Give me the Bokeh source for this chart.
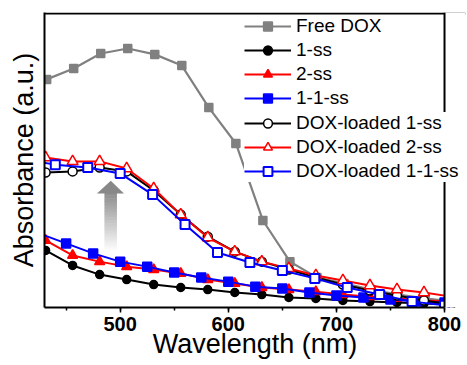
from bokeh.plotting import figure
from bokeh.models import (Legend, LegendItem, SingleIntervalTicker, FixedTicker,
                          Span, BoxAnnotation)
from bokeh.embed import file_html
from bokeh.resources import INLINE

# ---------------- data ----------------
free_dox_x = [432, 457, 482, 507, 532, 557, 582, 607, 632, 657, 682, 707, 732, 757, 782, 807]
free_dox_y = [0.776, 0.813, 0.864, 0.881, 0.861, 0.823, 0.680, 0.558, 0.296, 0.156, 0.102,
              0.082, 0.061, 0.044, 0.031, 0.020]

ss1_x = [431, 456, 481, 506, 531, 556, 581, 606, 631, 656, 681, 706, 731, 756, 781, 806]
ss1_y = [0.194, 0.143, 0.112, 0.095, 0.078, 0.068, 0.061, 0.051, 0.044, 0.034, 0.031,
         0.024, 0.020, 0.017, 0.014, 0.010]

ss2_x = [431, 456, 481, 506, 531, 556, 581, 606, 631, 656, 681, 706, 731, 756, 781, 806]
ss2_y = [0.228, 0.177, 0.156, 0.139, 0.129, 0.116, 0.095, 0.082, 0.068, 0.061, 0.054,
         0.044, 0.037, 0.031, 0.024, 0.020]

ss11_x = [425, 450, 475, 500, 525, 550, 575, 600, 625, 650, 675, 700, 725, 750, 775, 800]
ss11_y = [0.252, 0.218, 0.184, 0.156, 0.139, 0.119, 0.102, 0.088, 0.071, 0.065, 0.051,
          0.041, 0.034, 0.027, 0.020, 0.017]

dss1_x = [431, 456, 481, 506, 531, 556, 581, 606, 631, 656, 681, 706, 731, 756, 781, 806]
dss1_y = [0.459, 0.463, 0.476, 0.463, 0.398, 0.316, 0.241, 0.190, 0.156, 0.129, 0.102,
          0.078, 0.058, 0.041, 0.024, 0.010]

dss2_x = [431, 456, 481, 506, 531, 556, 581, 606, 631, 656, 681, 706, 731, 756, 781, 806]
dss2_y = [0.510, 0.497, 0.497, 0.473, 0.405, 0.316, 0.238, 0.190, 0.156, 0.133, 0.109,
          0.092, 0.075, 0.061, 0.051, 0.037]

dss11_x = [410, 440, 470, 500, 530, 560, 590, 620, 650, 680, 710, 740, 770, 800]
dss11_y = [0.505, 0.486, 0.476, 0.456, 0.384, 0.282, 0.187, 0.153, 0.126, 0.099, 0.068,
           0.044, 0.020, 0.008]

labels = ["Free DOX", "1-ss", "2-ss", "1-1-ss",
          "DOX-loaded 1-ss", "DOX-loaded 2-ss", "DOX-loaded 1-1-ss"]

X_MIN, X_MAX = 430, 800

# ---------------- figure ----------------
FONT = "Liberation Sans"
# the frame runs a little past 800 so that the legend text can overhang the right edge
p = figure(width=467, height=365, x_range=(X_MIN, 819.4), y_range=(0, 1.0035),
           output_backend="svg", toolbar_location=None,
           min_border_left=44, min_border_right=2, min_border_top=12, min_border_bottom=58)
p.xgrid.visible = False
p.ygrid.visible = False
p.outline_line_color = None
p.background_fill_color = "white"
p.border_fill_color = "white"

xa = p.xaxis[0]
xa.ticker = SingleIntervalTicker(interval=100, num_minor_ticks=2)
xa.bounds = (X_MIN, X_MAX)
xa.axis_line_width = 2
xa.major_tick_in = 0
xa.major_tick_out = 5
xa.minor_tick_in = 0
xa.minor_tick_out = 3
xa.major_tick_line_width = 1.5
xa.minor_tick_line_width = 1.5
xa.major_label_text_font = FONT
xa.major_label_text_font_style = "bold"
xa.major_label_text_font_size = "20px"
xa.major_label_text_color = "black"
xa.major_label_standoff = 4
xa.axis_label = "Wavelength (nm)"
xa.axis_label_text_font = FONT
xa.axis_label_text_font_style = "normal"
xa.axis_label_text_font_size = "27px"
xa.axis_label_text_color = "black"
xa.axis_label_standoff = -5

ya = p.yaxis[0]
ya.ticker = FixedTicker(ticks=[])
ya.axis_line_width = 2
ya.major_tick_out = 0
ya.minor_tick_out = 0
ya.major_label_text_font_size = "0px"
ya.axis_label = "Absorbance (a.u.)"
ya.axis_label_text_font = FONT
ya.axis_label_text_font_style = "normal"
ya.axis_label_text_font_size = "27px"
ya.axis_label_text_color = "black"
ya.axis_label_standoff = 6

# ---------------- gradient arrow (annotation) ----------------
shaft_left, shaft_right = 485.5, 497.0
shaft_bottom, shaft_top = 0.19, 0.39
n = 40
for i in range(n):
    b = shaft_bottom + (shaft_top - shaft_bottom) * i / n
    t = shaft_bottom + (shaft_top - shaft_bottom) * (i + 1) / n
    f = (i + 0.5) / n
    g = int(round(255 - (255 - 140) * f))
    c = "#%02x%02x%02x" % (g, g, g)
    p.quad(left=shaft_left, right=shaft_right, bottom=b, top=t + 0.002,
           fill_color=c, line_color=None)
head_x = [478.5, 491.3, 503.5]
head_y = [0.388, 0.431, 0.388]
p.patch(head_x, head_y, fill_color="#888888", line_color=None)

# ---------------- series ----------------
def series(x, y, color, marker, size, fill, lw=2.0, mlw=1.5):
    r1 = p.line(x, y, line_color=color, line_width=lw)
    r2 = p.scatter(x, y, marker=marker, size=size, fill_color=fill,
                   line_color=color, line_width=mlw)
    return [r1, r2]

r_free = series(free_dox_x, free_dox_y, "#808080", "square", 8, "#808080", lw=2.2)
r_1 = series(ss1_x, ss1_y, "black", "circle", 8, "black")
r_2 = series(ss2_x, ss2_y, "#ff0000", "triangle", 10, "#ff0000")
r_11 = series(ss11_x, ss11_y, "#0000ff", "square", 9, "#0000ff")
r_d1 = series(dss1_x, dss1_y, "black", "circle", 9, "white", mlw=1.5)
r_d2 = series(dss2_x, dss2_y, "#ff0000", "triangle", 11, "white", mlw=1.5)
r_d11 = series(dss11_x, dss11_y, "#0000ff", "square", 9, "white", mlw=2)

# ---------------- frame: top line, blank beyond 800, right line ----------------
p.add_layout(Span(location=1.0, dimension="width", line_color="black", line_width=2))
p.add_layout(BoxAnnotation(left=X_MAX, fill_color="white", fill_alpha=1.0,
                           line_color=None))
p.add_layout(Span(location=X_MAX, dimension="height", line_color="black", line_width=2))

rends = [r_free, r_1, r_2, r_11, r_d1, r_d2, r_d11]
items = [LegendItem(label=l, renderers=r) for l, r in zip(labels, rends)]

def make_legend(its, loc, bg_alpha):
    lg = Legend(items=its, location=loc, padding=0, margin=0, spacing=2,
                glyph_width=47, glyph_height=22, label_height=22, label_standoff=5,
                label_text_font=FONT, label_text_font_size="19px", label_text_color="black",
                border_line_color=None, background_fill_color="white",
                background_fill_alpha=bg_alpha)
    return lg

leg_a = make_legend(items[:4], (200, 198), 0.0)
leg_b = make_legend(items[4:], (200, 125), 1.0)
p.add_layout(leg_a, "center")
p.add_layout(leg_b, "center")

open("out.html", "w").write(file_html(p, INLINE))
